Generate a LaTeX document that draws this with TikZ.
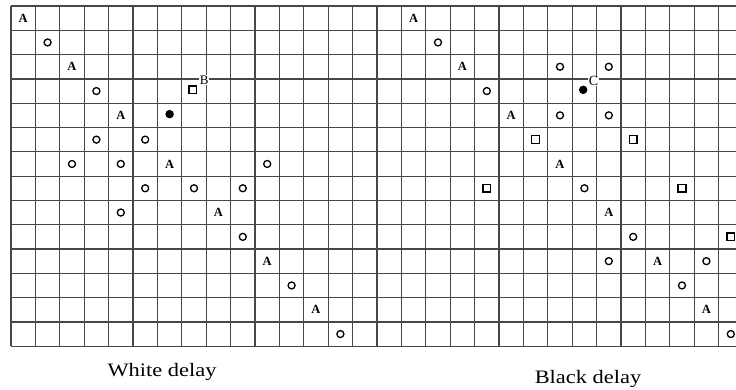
\documentclass[tikz,border=0pt]{standalone}
\usepackage{fontspec}
\setmainfont{Liberation Serif}
\tikzset{
  gridline/.style={line width=1.2pt, draw=black!72},
  mkA/.style={inner sep=0pt, font=\fontsize{12.5}{12.5}\selectfont\bfseries},
  mkO/.style={circle, draw=black, line width=1.3pt, minimum size=7pt, inner sep=0pt},
  mkS/.style={rectangle, draw=black, line width=1.4pt, minimum size=7.8pt, inner sep=0pt},
  mkD/.style={circle, fill=black, minimum size=8.5pt, inner sep=0pt},
  lab/.style={fill=white, inner sep=0.6pt, font=\fontsize{13}{13}\selectfont},
  captext/.style={anchor=base, xscale=1.18, font=\fontsize{19}{19}\selectfont}
}
\begin{document}
\begin{tikzpicture}[x=1pt, y=-1pt]
\useasboundingbox (0,0) rectangle (736,389);
\begin{scope}
\clip (0,0) rectangle (736,389);
\begin{scope}[shift={(11,6)}, x=24.4pt, y=-24.3pt]
  \foreach \c in {0,...,30} \draw[gridline] (\c,0) -- (\c,14);
  \foreach \r in {0,...,14} \draw[gridline] (0,\r) -- (30,\r);
  % left half: White delay
  \foreach \c/\r [count=\i] in {0/0,2/2,4/4,6/6,8/8,10/10,12/12}
    \node[mkA] (la\i) at (\c+0.5,\r+0.5) {A};
  \foreach \c/\r [count=\i] in {1/1,3/3,3/5,5/5,2/6,4/6,10/6,5/7,7/7,9/7,4/8,9/9,11/11,13/13}
    \node[mkO] (lo\i) at (\c+0.5,\r+0.5) {};
  \node[mkS] (ls1) at (7.45,3.45) {};
  \node[mkD] (ld1) at (6.5,4.45) {};
  \node[lab] (B) at (7.92,3.05) {B};
  % right half: Black delay
  \foreach \c/\r [count=\i] in {16/0,18/2,20/4,22/6,24/8,26/10,28/12}
    \node[mkA] (ra\i) at (\c+0.5,\r+0.5) {A};
  \foreach \c/\r [count=\i] in {17/1,19/3,22/2,24/2,22/4,24/4,23/7,25/9,24/10,28/10,27/11,29/13}
    \node[mkO] (ro\i) at (\c+0.5,\r+0.5) {};
  \foreach \c/\r [count=\i] in {21/5,25/5,19/7,27/7,29/9}
    \node[mkS] (rs\i) at (\c+0.5,\r+0.5) {};
  \node[mkD] (rd1) at (23.45,3.45) {};
  \node[lab, font=\fontsize{14}{14}\selectfont] (C) at (23.87,3.08) {C};
\end{scope}
\end{scope}
\node[captext] (wd) at (162,376) {White delay};
\node[captext] (bd) at (588,383) {Black delay};
\end{tikzpicture}
\end{document}
